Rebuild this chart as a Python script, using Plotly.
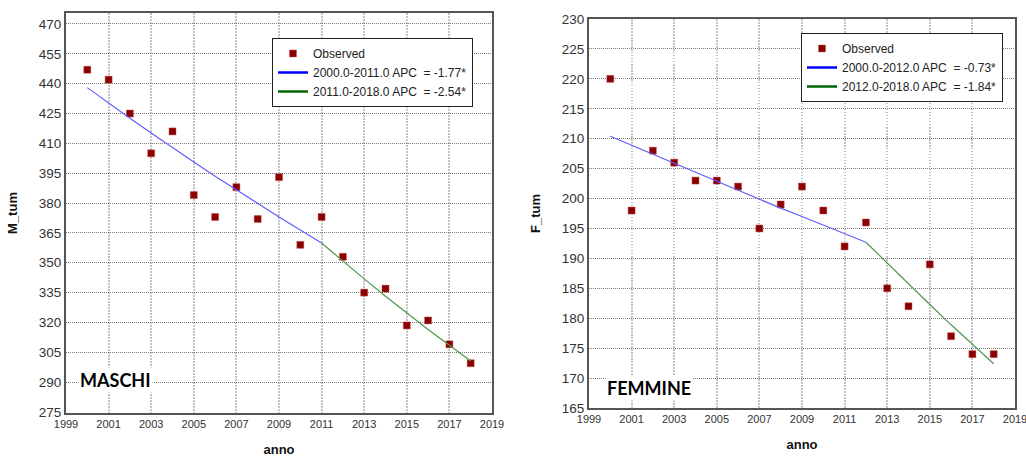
import plotly.graph_objects as go

# ---------------- data ----------------
years = list(range(2000, 2019))

m_obs = [447, 442, 425, 405, 416, 384, 373, 388, 372, 393, 359, 373, 353, 335, 337, 318.5, 321, 309, 299.5]
m_fit1_years = list(range(2000, 2012))
m_fit1 = [438.0, 430.2, 422.6, 415.2, 407.8, 400.6, 393.5, 386.6, 379.7, 373.0, 366.4, 359.9]
m_fit2_years = list(range(2011, 2019))
m_fit2 = [359.9, 350.8, 341.9, 333.2, 324.7, 316.5, 308.5, 300.6]

f_obs = [220, 198, 208, 206, 203, 203, 202, 195, 199, 202, 198, 192, 196, 185, 182, 189, 177, 174, 174]
f_fit1_years = list(range(2000, 2013))
f_fit1 = [210.4, 208.9, 207.3, 205.8, 204.3, 202.8, 201.4, 199.9, 198.4, 197.0, 195.6, 194.1, 192.7]
f_fit2_years = list(range(2012, 2019))
f_fit2 = [192.7, 189.2, 185.7, 182.3, 178.9, 175.6, 172.4]

m_labels = ["Observed", "2000.0-2011.0 APC\u00a0 = -1.77*", "2011.0-2018.0 APC\u00a0 = -2.54*"]
f_labels = ["Observed", "2000.0-2012.0 APC\u00a0 = -0.73*", "2012.0-2018.0 APC\u00a0 = -1.84*"]

x_ticks = list(range(1999, 2020, 2))
m_yticks = list(range(275, 471, 15))
f_yticks = list(range(165, 231, 5))

# ---------------- styles ----------------
W, H = 1026, 457
OBS_COLOR = "#8b0000"
BLUE_PLOT = "rgb(95,95,255)"
GREEN_PLOT = "rgb(80,150,80)"
BLUE_LEG = "#0000ff"
GREEN_LEG = "#006400"
FONT = "Liberation Sans, Arial, sans-serif"

fig = go.Figure()


def add_panel(xa, ya, leg, obs, fit1x, fit1, fit2x, fit2, labels):
    fig.add_trace(go.Scatter(
        x=years, y=obs, mode="markers", name=labels[0],
        marker=dict(symbol="square", size=7, color=OBS_COLOR,
                    line=dict(width=1, color="rgba(190,80,80,0.45)")),
        xaxis=xa, yaxis=ya, legend=leg, showlegend=True))
    fig.add_trace(go.Scatter(
        x=fit1x, y=fit1, mode="lines", line=dict(color=BLUE_PLOT, width=1.2),
        xaxis=xa, yaxis=ya, showlegend=False, hoverinfo="skip"))
    fig.add_trace(go.Scatter(
        x=fit2x, y=fit2, mode="lines", line=dict(color=GREEN_PLOT, width=1.2),
        xaxis=xa, yaxis=ya, showlegend=False, hoverinfo="skip"))
    # legend-only entries (thicker, saturated as in the reference legend)
    fig.add_trace(go.Scatter(
        x=[None], y=[None], mode="lines", name=labels[1],
        line=dict(color=BLUE_LEG, width=2.5), xaxis=xa, yaxis=ya, legend=leg))
    fig.add_trace(go.Scatter(
        x=[None], y=[None], mode="lines", name=labels[2],
        line=dict(color=GREEN_LEG, width=2.5), xaxis=xa, yaxis=ya, legend=leg))


add_panel("x", "y", "legend", m_obs, m_fit1_years, m_fit1, m_fit2_years, m_fit2, m_labels)
add_panel("x2", "y2", "legend2", f_obs, f_fit1_years, f_fit1, f_fit2_years, f_fit2, f_labels)


def xaxis_style(domain, anchor):
    return dict(
        domain=domain, anchor=anchor, range=[1999, 2019], automargin=False,
        tickmode="array", tickvals=x_ticks, ticktext=[str(v) for v in x_ticks],
        ticklabeloverflow="allow",
        showgrid=True, gridcolor="#c4c4c4", gridwidth=1.5, griddash="1.5px,1.5px",
        showline=True, mirror=True, linecolor="#555555", linewidth=2,
        ticks="", zeroline=False,
        tickfont=dict(family=FONT, size=11, color="#333333"),
        title=dict(text="<b>anno</b>", font=dict(family=FONT, size=13, color="#111111"), standoff=16),
    )


def yaxis_style(domain, anchor, rng, tickvals, title):
    return dict(
        domain=domain, anchor=anchor, range=rng, automargin=False,
        tickmode="array", tickvals=tickvals, ticktext=[str(v) for v in tickvals],
        showgrid=True, gridcolor="#7a7a7a", gridwidth=1, griddash="1px,1px",
        showline=True, mirror=True, linecolor="#555555", linewidth=2,
        ticks="", zeroline=False,
        tickfont=dict(family=FONT, size=13.5, color="#333333"),
        title=dict(text="<b>" + title + "</b>", font=dict(family=FONT, size=13, color="#111111"), standoff=18),
    )


legend_common = dict(
    bgcolor="white", bordercolor="#222222", borderwidth=1,
    font=dict(family=FONT, size=12, color="#222222"),
    tracegroupgap=0, xanchor="left", yanchor="top",
)

fig.update_layout(
    width=W, height=H, margin=dict(l=0, r=0, t=0, b=0),
    paper_bgcolor="white", plot_bgcolor="white",
    xaxis=xaxis_style([66 / W, 492 / W], "y"),
    yaxis=yaxis_style([(H - 413) / H, (H - 13) / H], "x", [274.5, 475.5], m_yticks, "M_tum"),
    xaxis2=xaxis_style([589 / W, 1015 / W], "y2"),
    yaxis2=yaxis_style([(H - 408) / H, (H - 19) / H], "x2", [165, 230], f_yticks, "F_tum"),
    legend=dict(x=272 / W, y=(H - 38) / H, **legend_common),
    legend2=dict(x=801 / W, y=(H - 33) / H, **legend_common),
    annotations=[
        dict(text="<b>MASCHI</b>", xref="paper", yref="paper", x=78 / W, y=(H - 380) / H,
             xanchor="left", yanchor="middle", showarrow=False, bgcolor="white",
             font=dict(family="Lato, Open Sans, sans-serif", size=18, color="#000000")),
        dict(text="<b>FEMMINE</b>", xref="paper", yref="paper", x=605 / W, y=(H - 388) / H,
             xanchor="left", yanchor="middle", showarrow=False, bgcolor="white",
             font=dict(family="Lato, Open Sans, sans-serif", size=18, color="#000000")),
    ],
)

fig.write_html(
    "out.html",
    config={"displayModeBar": False},
    post_script="document.body.style.margin='0';document.body.style.overflow='hidden';",
)
